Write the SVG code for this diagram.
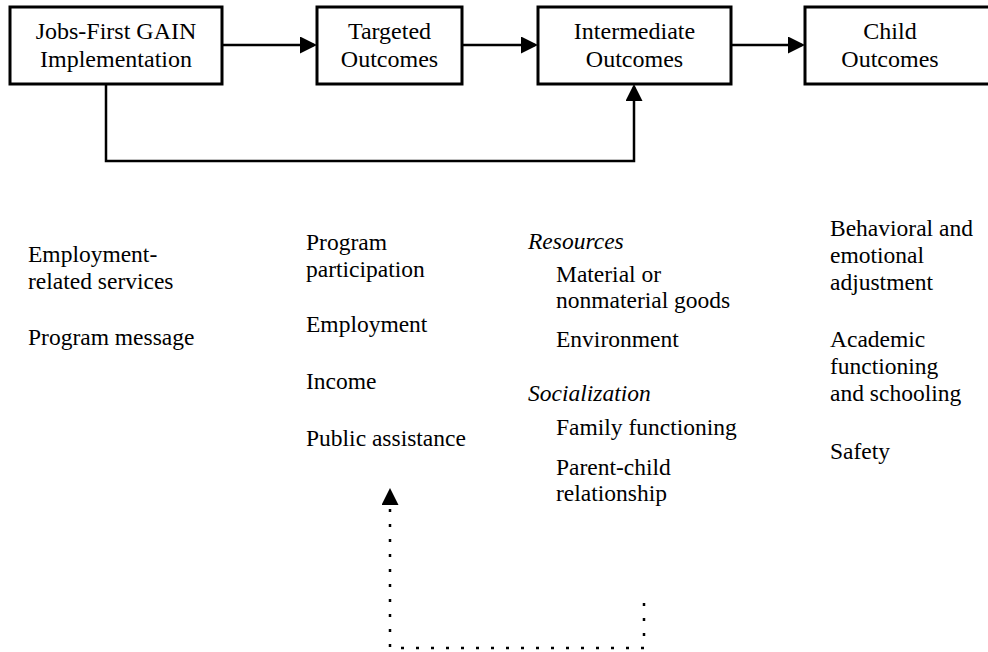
<svg xmlns="http://www.w3.org/2000/svg" width="988" height="652" viewBox="0 0 988 652">
<style>
  text { font-family: "Liberation Serif", "Times New Roman", serif; font-size: 23.5px; fill: #000; }
  .box rect { fill: #fff; stroke: #000; stroke-width: 3; }
  .box text { text-anchor: middle; font-size: 24px; }
  .it { font-style: italic; }
  .conn { fill: none; stroke: #000; stroke-width: 2.5; }
  .dot { fill: none; stroke: #000; stroke-width: 2.5; stroke-dasharray: 3 12; }
</style>
<defs>
  <marker id="ah" viewBox="0 0 17 17" markerWidth="17" markerHeight="17" refX="14" refY="8.5" orient="auto" markerUnits="userSpaceOnUse">
    <path d="M0,0 L17,8.5 L0,17 z" fill="#000"/>
  </marker>
</defs>

<g id="connectors">
  <path class="conn" d="M222,45 L314,45" marker-end="url(#ah)"/>
  <path class="conn" d="M462,45 L535,45" marker-end="url(#ah)"/>
  <path class="conn" d="M731,45 L802,45" marker-end="url(#ah)"/>
  <path class="conn" d="M106,84 L106,161 L634,161 L634,87" marker-end="url(#ah)"/>
  <path class="dot" d="M644,603 L644,648 L390,648 L390,491" marker-end="url(#ah)"/>
</g>

<g id="node-jobs-first" class="box">
  <rect x="10" y="7" width="212" height="77"/>
  <text x="116" y="39">Jobs-First GAIN</text>
  <text x="116" y="67">Implementation</text>
</g>
<g id="node-targeted" class="box">
  <rect x="317" y="7" width="145" height="77"/>
  <text x="389.5" y="39">Targeted</text>
  <text x="389.5" y="67">Outcomes</text>
</g>
<g id="node-intermediate" class="box">
  <rect x="538" y="7" width="193" height="77"/>
  <text x="634.5" y="39">Intermediate</text>
  <text x="634.5" y="67">Outcomes</text>
</g>
<g id="node-child" class="box">
  <rect x="805" y="7" width="200" height="77"/>
  <text x="890" y="39">Child</text>
  <text x="890" y="67">Outcomes</text>
</g>

<g id="list-implementation">
  <text x="28" y="262">Employment-</text>
  <text x="28" y="289">related services</text>
  <text x="28" y="345">Program message</text>
</g>
<g id="list-targeted">
  <text x="306" y="250">Program</text>
  <text x="306" y="277">participation</text>
  <text x="306" y="332">Employment</text>
  <text x="306" y="389">Income</text>
  <text x="306" y="446">Public assistance</text>
</g>
<g id="list-intermediate">
  <text class="it" x="528" y="249">Resources</text>
  <text x="556" y="282">Material or</text>
  <text x="556" y="308">nonmaterial goods</text>
  <text x="556" y="347">Environment</text>
  <text class="it" x="528" y="401">Socialization</text>
  <text x="556" y="435">Family functioning</text>
  <text x="556" y="475">Parent-child</text>
  <text x="556" y="501">relationship</text>
</g>
<g id="list-child">
  <text x="830" y="236">Behavioral and</text>
  <text x="830" y="263">emotional</text>
  <text x="830" y="290">adjustment</text>
  <text x="830" y="347">Academic</text>
  <text x="830" y="374">functioning</text>
  <text x="830" y="401">and schooling</text>
  <text x="830" y="459">Safety</text>
</g>
</svg>
